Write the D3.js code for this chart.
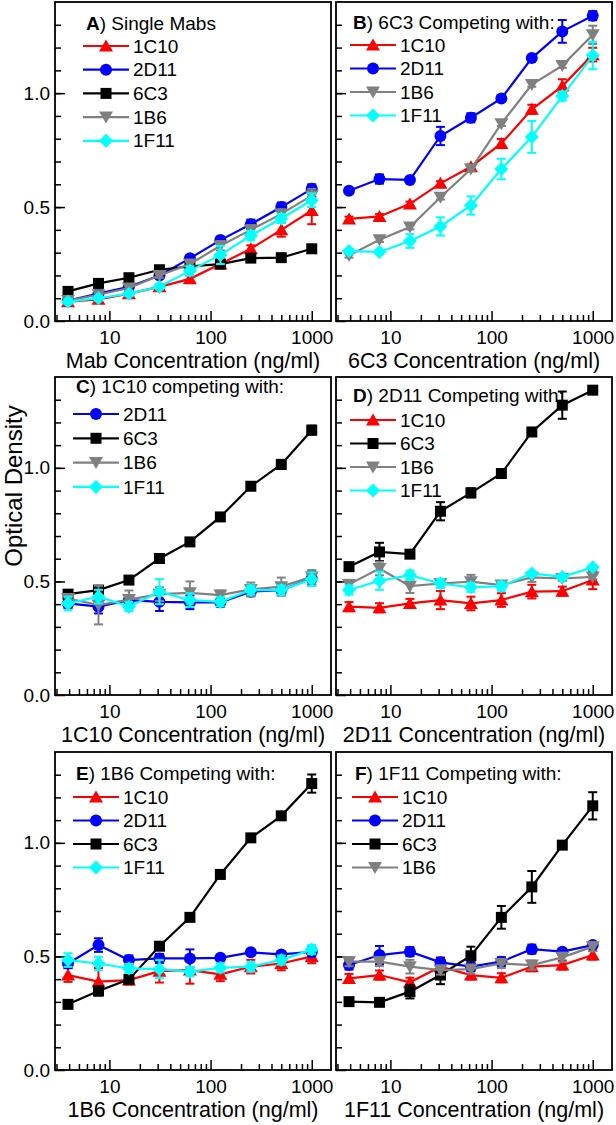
<!DOCTYPE html>
<html><head><meta charset="utf-8">
<script src="https://cdn.jsdelivr.net/npm/d3@7"></script>
<style>body{margin:0;background:#fff}svg{display:block}text{font-family:"Liberation Sans",Arial,sans-serif;fill:#000}</style>
</head><body>
<script>
// ---------- DATA ----------
const concentrations = [3.9, 7.8, 15.6, 31.25, 62.5, 125, 250, 500, 1000];
const yTickLabels = ["0.0", "0.5", "1.0"];
const xTickLabels = ["10", "100", "1000"];

const panelA_series = ["1C10", "2D11", "6C3", "1B6", "1F11"];
const panelA_values = [
  [0.085, 0.095, 0.12, 0.15, 0.185, 0.25, 0.317, 0.40, 0.485],
  [0.09, 0.12, 0.15, 0.20, 0.275, 0.355, 0.425, 0.50, 0.58],
  [0.13, 0.165, 0.19, 0.225, 0.24, 0.25, 0.276, 0.278, 0.317],
  [0.09, 0.115, 0.145, 0.20, 0.25, 0.33, 0.40, 0.47, 0.55],
  [0.085, 0.10, 0.12, 0.15, 0.22, 0.29, 0.375, 0.45, 0.53]
];
const panelA_errors = [
  [0.01, 0.01, 0.01, 0.01, 0.015, 0.02, 0.015, 0.03, 0.06],
  [0.01, 0.01, 0.01, 0.01, 0.01, 0.015, 0.02, 0.02, 0.02],
  [0.005, 0.005, 0.005, 0.005, 0.005, 0.005, 0.005, 0.005, 0.005],
  [0.01, 0.01, 0.01, 0.01, 0.01, 0.02, 0.02, 0.02, 0.03],
  [0.01, 0.01, 0.01, 0.01, 0.02, 0.04, 0.02, 0.02, 0.03]
];

const panelB_series = ["1C10", "2D11", "1B6", "1F11"];
const panelB_values = [
  [0.448, 0.459, 0.514, 0.604, 0.677, 0.779, 0.929, 1.031, 1.169],
  [0.572, 0.623, 0.619, 0.812, 0.892, 0.977, 1.154, 1.271, 1.34],
  [0.288, 0.357, 0.412, 0.543, 0.667, 0.866, 1.038, 1.121, 1.256],
  [0.307, 0.303, 0.351, 0.415, 0.507, 0.667, 0.808, 0.987, 1.165]
];
const panelB_errors = [
  [0.01, 0.01, 0.01, 0.01, 0.01, 0.02, 0.02, 0.03, 0.03],
  [0.01, 0.02, 0.01, 0.04, 0.02, 0.01, 0.01, 0.05, 0.02],
  [0.01, 0.01, 0.01, 0.01, 0.01, 0.01, 0.01, 0.01, 0.04],
  [0.01, 0.01, 0.03, 0.04, 0.04, 0.045, 0.07, 0.02, 0.06]
];

const panelC_series = ["2D11", "6C3", "1B6", "1F11"];
const panelC_values = [
  [0.403, 0.389, 0.418, 0.41, 0.408, 0.408, 0.455, 0.462, 0.513],
  [0.444, 0.462, 0.506, 0.601, 0.674, 0.784, 0.919, 1.015, 1.166],
  [0.425, 0.396, 0.42, 0.444, 0.45, 0.44, 0.465, 0.477, 0.52],
  [0.403, 0.433, 0.389, 0.455, 0.418, 0.41, 0.462, 0.462, 0.51]
];
const panelC_errors = [
  [0.02, 0.03, 0.02, 0.04, 0.03, 0.02, 0.02, 0.02, 0.03],
  [0.01, 0.01, 0.01, 0.01, 0.01, 0.01, 0.01, 0.02, 0.02],
  [0.02, 0.085, 0.04, 0.03, 0.05, 0.02, 0.03, 0.04, 0.03],
  [0.03, 0.03, 0.02, 0.055, 0.03, 0.02, 0.02, 0.02, 0.03]
];

const panelD_series = ["1C10", "6C3", "1B6", "1F11"];
const panelD_values = [
  [0.389, 0.384, 0.403, 0.418, 0.403, 0.418, 0.455, 0.457, 0.506],
  [0.565, 0.63, 0.62, 0.809, 0.89, 0.975, 1.158, 1.276, 1.342],
  [0.487, 0.557, 0.479, 0.491, 0.499, 0.484, 0.518, 0.513, 0.52],
  [0.462, 0.503, 0.528, 0.491, 0.474, 0.479, 0.535, 0.52, 0.562]
];
const panelD_errors = [
  [0.02, 0.02, 0.02, 0.04, 0.03, 0.03, 0.03, 0.02, 0.04],
  [0.01, 0.04, 0.01, 0.04, 0.02, 0.01, 0.01, 0.06, 0.01],
  [0.02, 0.03, 0.03, 0.02, 0.03, 0.01, 0.02, 0.01, 0.01],
  [0.02, 0.04, 0.02, 0.02, 0.02, 0.02, 0.01, 0.01, 0.01]
];

const panelE_series = ["1C10", "2D11", "6C3", "1F11"];
const panelE_values = [
  [0.418, 0.389, 0.396, 0.435, 0.44, 0.421, 0.455, 0.469, 0.50],
  [0.469, 0.55, 0.484, 0.491, 0.491, 0.494, 0.518, 0.509, 0.52],
  [0.289, 0.348, 0.399, 0.545, 0.672, 0.861, 1.022, 1.119, 1.261],
  [0.484, 0.469, 0.447, 0.444, 0.433, 0.45, 0.455, 0.484, 0.53]
];
const panelE_errors = [
  [0.03, 0.06, 0.02, 0.05, 0.06, 0.03, 0.03, 0.03, 0.03],
  [0.02, 0.03, 0.02, 0.02, 0.04, 0.01, 0.01, 0.01, 0.02],
  [0.01, 0.02, 0.01, 0.01, 0.01, 0.01, 0.01, 0.01, 0.04],
  [0.03, 0.03, 0.02, 0.04, 0.02, 0.02, 0.02, 0.02, 0.02]
];

const panelF_series = ["1C10", "2D11", "6C3", "1B6"];
const panelF_values = [
  [0.403, 0.418, 0.386, 0.455, 0.418, 0.406, 0.455, 0.462, 0.506],
  [0.462, 0.506, 0.521, 0.474, 0.455, 0.477, 0.532, 0.521, 0.55],
  [0.301, 0.298, 0.345, 0.418, 0.503, 0.672, 0.806, 0.99, 1.163],
  [0.477, 0.477, 0.455, 0.44, 0.444, 0.469, 0.462, 0.496, 0.543]
];
const panelF_errors = [
  [0.02, 0.02, 0.02, 0.04, 0.02, 0.02, 0.02, 0.02, 0.02],
  [0.02, 0.04, 0.02, 0.02, 0.02, 0.02, 0.02, 0.01, 0.01],
  [0.01, 0.01, 0.03, 0.04, 0.04, 0.05, 0.07, 0.01, 0.06],
  [0.02, 0.02, 0.03, 0.02, 0.02, 0.02, 0.02, 0.02, 0.02]
];

const panelLetters = ["A", "B", "C", "D", "E", "F"];
const panelTitles = [") Single Mabs", ") 6C3 Competing with:", ") 1C10 competing with:", ") 2D11 Competing with:", ") 1B6 Competing with:", ") 1F11 Competing with:"];
const xAxisTitles = ["Mab Concentration (ng/ml)", "6C3 Concentration (ng/ml)", "1C10 Concentration (ng/ml)", "2D11 Concentration (ng/ml)", "1B6 Concentration (ng/ml)", "1F11 Concentration (ng/ml)"];
const yAxisTitle = "Optical Density";

// ---------- STYLE / LAYOUT ----------
const styles = {
  "1C10": {color: "#ff0000", shape: "triUp"},
  "2D11": {color: "#0000ff", shape: "circle"},
  "6C3":  {color: "#000000", shape: "square"},
  "1B6":  {color: "#808080", shape: "triDown"},
  "1F11": {color: "#00ffff", shape: "diamond"}
};
const W = 616, H = 1125;
const colX = [[55, 331], [336, 612]];
const rowY = [[2, 321], [377, 695], [752, 1070]];
const legendLayout = [
  {x: 83, title: 23, first: 46, step: 23.7},
  {x: 350, title: 22, first: 45, step: 23.5},
  {x: 73, title: 386, first: 414, step: 24.3},
  {x: 350, title: 395, first: 420, step: 23.5},
  {x: 73, title: 773, first: 797, step: 23.5},
  {x: 352, title: 773, first: 797, step: 23.5}
];

const panels = [
  {series: panelA_series, values: panelA_values, errors: panelA_errors},
  {series: panelB_series, values: panelB_values, errors: panelB_errors},
  {series: panelC_series, values: panelC_values, errors: panelC_errors},
  {series: panelD_series, values: panelD_values, errors: panelD_errors},
  {series: panelE_series, values: panelE_values, errors: panelE_errors},
  {series: panelF_series, values: panelF_values, errors: panelF_errors}
];

const svg = d3.select("body").append("svg").attr("width", W).attr("height", H);

function markerPath(shape) {
  switch (shape) {
    case "triUp": return "M0,-6.5L7,5.5L-7,5.5Z";
    case "triDown": return "M0,6.5L7,-5.5L-7,-5.5Z";
    case "square": return "M-5.5,-5.5H5.5V5.5H-5.5Z";
    case "diamond": return "M0,-7L7,0L0,7L-7,0Z";
    default: return d3.symbol().type(d3.symbolCircle).size(Math.PI * 6 * 6)();
  }
}

panels.forEach((p, i) => {
  const col = i % 2, row = Math.floor(i / 2);
  const [x0, x1] = colX[col], [y0, y1] = rowY[row];
  const x = d3.scaleLog().domain([2.9, 1550]).range([x0, x1]);
  const y = d3.scaleLinear().domain([0, 1.4]).range([y1, y0]);
  const g = svg.append("g");

  // minor & major ticks (inside)
  const yMinor = d3.range(0, 15).map(k => k / 10).filter(v => v > 0 && v < 1.4);
  g.append("g").attr("transform", `translate(${x0},0)`)
    .call(d3.axisRight(y).tickValues(yMinor).tickSize(6).tickFormat(""))
    .call(a => a.select(".domain").remove())
    .call(a => a.selectAll("line").attr("stroke-width", 1.5));
  g.append("g").attr("transform", `translate(${x0},0)`)
    .call(d3.axisRight(y).tickValues([0, 0.5, 1.0]).tickSize(10).tickFormat(""))
    .call(a => a.select(".domain").remove())
    .call(a => a.selectAll("line").attr("stroke-width", 1.5));
  if (col === 0) {
    g.append("g").attr("transform", `translate(${x0},0)`)
      .call(d3.axisLeft(y).tickValues([0, 0.5, 1.0]).tickSize(0).tickPadding(5).tickFormat((d, k) => yTickLabels[k]))
      .call(a => a.select(".domain").remove())
      .call(a => a.selectAll("text").style("font-size", "19px").style("font-family", '"Liberation Sans",Arial,sans-serif'));
  }
  const xMinor = [];
  [1, 10, 100, 1000].forEach(d => [2,3,4,5,6,7,8,9].forEach(m => { const v = d * m; if (v > 2.9 && v < 1550) xMinor.push(v); }));
  g.append("g").attr("transform", `translate(0,${y1})`)
    .call(d3.axisTop(x).tickValues(xMinor).tickSize(6).tickFormat(""))
    .call(a => a.select(".domain").remove())
    .call(a => a.selectAll("line").attr("stroke-width", 1.5));
  g.append("g").attr("transform", `translate(0,${y1})`)
    .call(d3.axisTop(x).tickValues([10, 100, 1000]).tickSize(10).tickFormat(""))
    .call(a => a.select(".domain").remove())
    .call(a => a.selectAll("line").attr("stroke-width", 1.5));
  g.append("g").attr("transform", `translate(0,${y1})`)
    .call(d3.axisBottom(x).tickValues([10, 100, 1000]).tickSize(0).tickPadding(10).tickFormat((d, k) => xTickLabels[k]))
    .call(a => a.select(".domain").remove())
    .call(a => a.selectAll("text").style("font-size", "19px").style("font-family", '"Liberation Sans",Arial,sans-serif'));

  // frame
  g.append("rect").attr("x", x0).attr("y", y0).attr("width", x1 - x0).attr("height", y1 - y0)
    .attr("fill", "none").attr("stroke", "#000").attr("stroke-width", 1.8);

  // x-axis title
  g.append("text").attr("x", (x0 + x1) / 2).attr("y", y1 + 47).attr("text-anchor", "middle")
    .style("font-size", "21.5px").text(xAxisTitles[i]);

  // data
  const line = d3.line().x(d => x(d.c)).y(d => y(d.v));
  p.series.forEach((name, s) => {
    const st = styles[name];
    const pts = concentrations.map((c, k) => ({c, v: p.values[s][k], e: p.errors[s][k]}));
    const sg = g.append("g");
    sg.append("path").datum(pts).attr("d", line).attr("fill", "none").attr("stroke", st.color).attr("stroke-width", 2.2);
    const eb = sg.selectAll(".eb").data(pts).enter().append("g");
    eb.append("line").attr("x1", d => x(d.c)).attr("x2", d => x(d.c)).attr("y1", d => y(d.v - d.e)).attr("y2", d => y(d.v + d.e))
      .attr("stroke", st.color).attr("stroke-width", 2);
    [-1, 1].forEach(sign => {
      eb.append("line").attr("x1", d => x(d.c) - 4.5).attr("x2", d => x(d.c) + 4.5)
        .attr("y1", d => y(d.v + sign * d.e)).attr("y2", d => y(d.v + sign * d.e))
        .attr("stroke", st.color).attr("stroke-width", 2);
    });
    sg.selectAll(".mk").data(pts).enter().append("path")
      .attr("transform", d => `translate(${x(d.c)},${y(d.v)})`).attr("d", markerPath(st.shape)).attr("fill", st.color);
  });

  // legend
  const L = legendLayout[i];
  const t = g.append("text").attr("x", L.x + 3).attr("y", L.title).attr("dy", "0.35em").style("font-size", "19px");
  t.append("tspan").style("font-weight", "bold").text(panelLetters[i]);
  t.append("tspan").text(panelTitles[i]);
  p.series.forEach((name, s) => {
    const st = styles[name];
    const ly = L.first + s * L.step;
    g.append("line").attr("x1", L.x).attr("x2", L.x + 46).attr("y1", ly).attr("y2", ly).attr("stroke", st.color).attr("stroke-width", 2.2);
    g.append("path").attr("transform", `translate(${L.x + 23},${ly})`).attr("d", markerPath(st.shape)).attr("fill", st.color);
    g.append("text").attr("x", L.x + 50).attr("y", ly).attr("dy", "0.35em").style("font-size", "19px").text(name);
  });
});

// y-axis title
svg.append("text").attr("transform", "translate(22,486) rotate(-90)").attr("text-anchor", "middle")
  .style("font-size", "24px").text(yAxisTitle);
</script>
</body></html>
